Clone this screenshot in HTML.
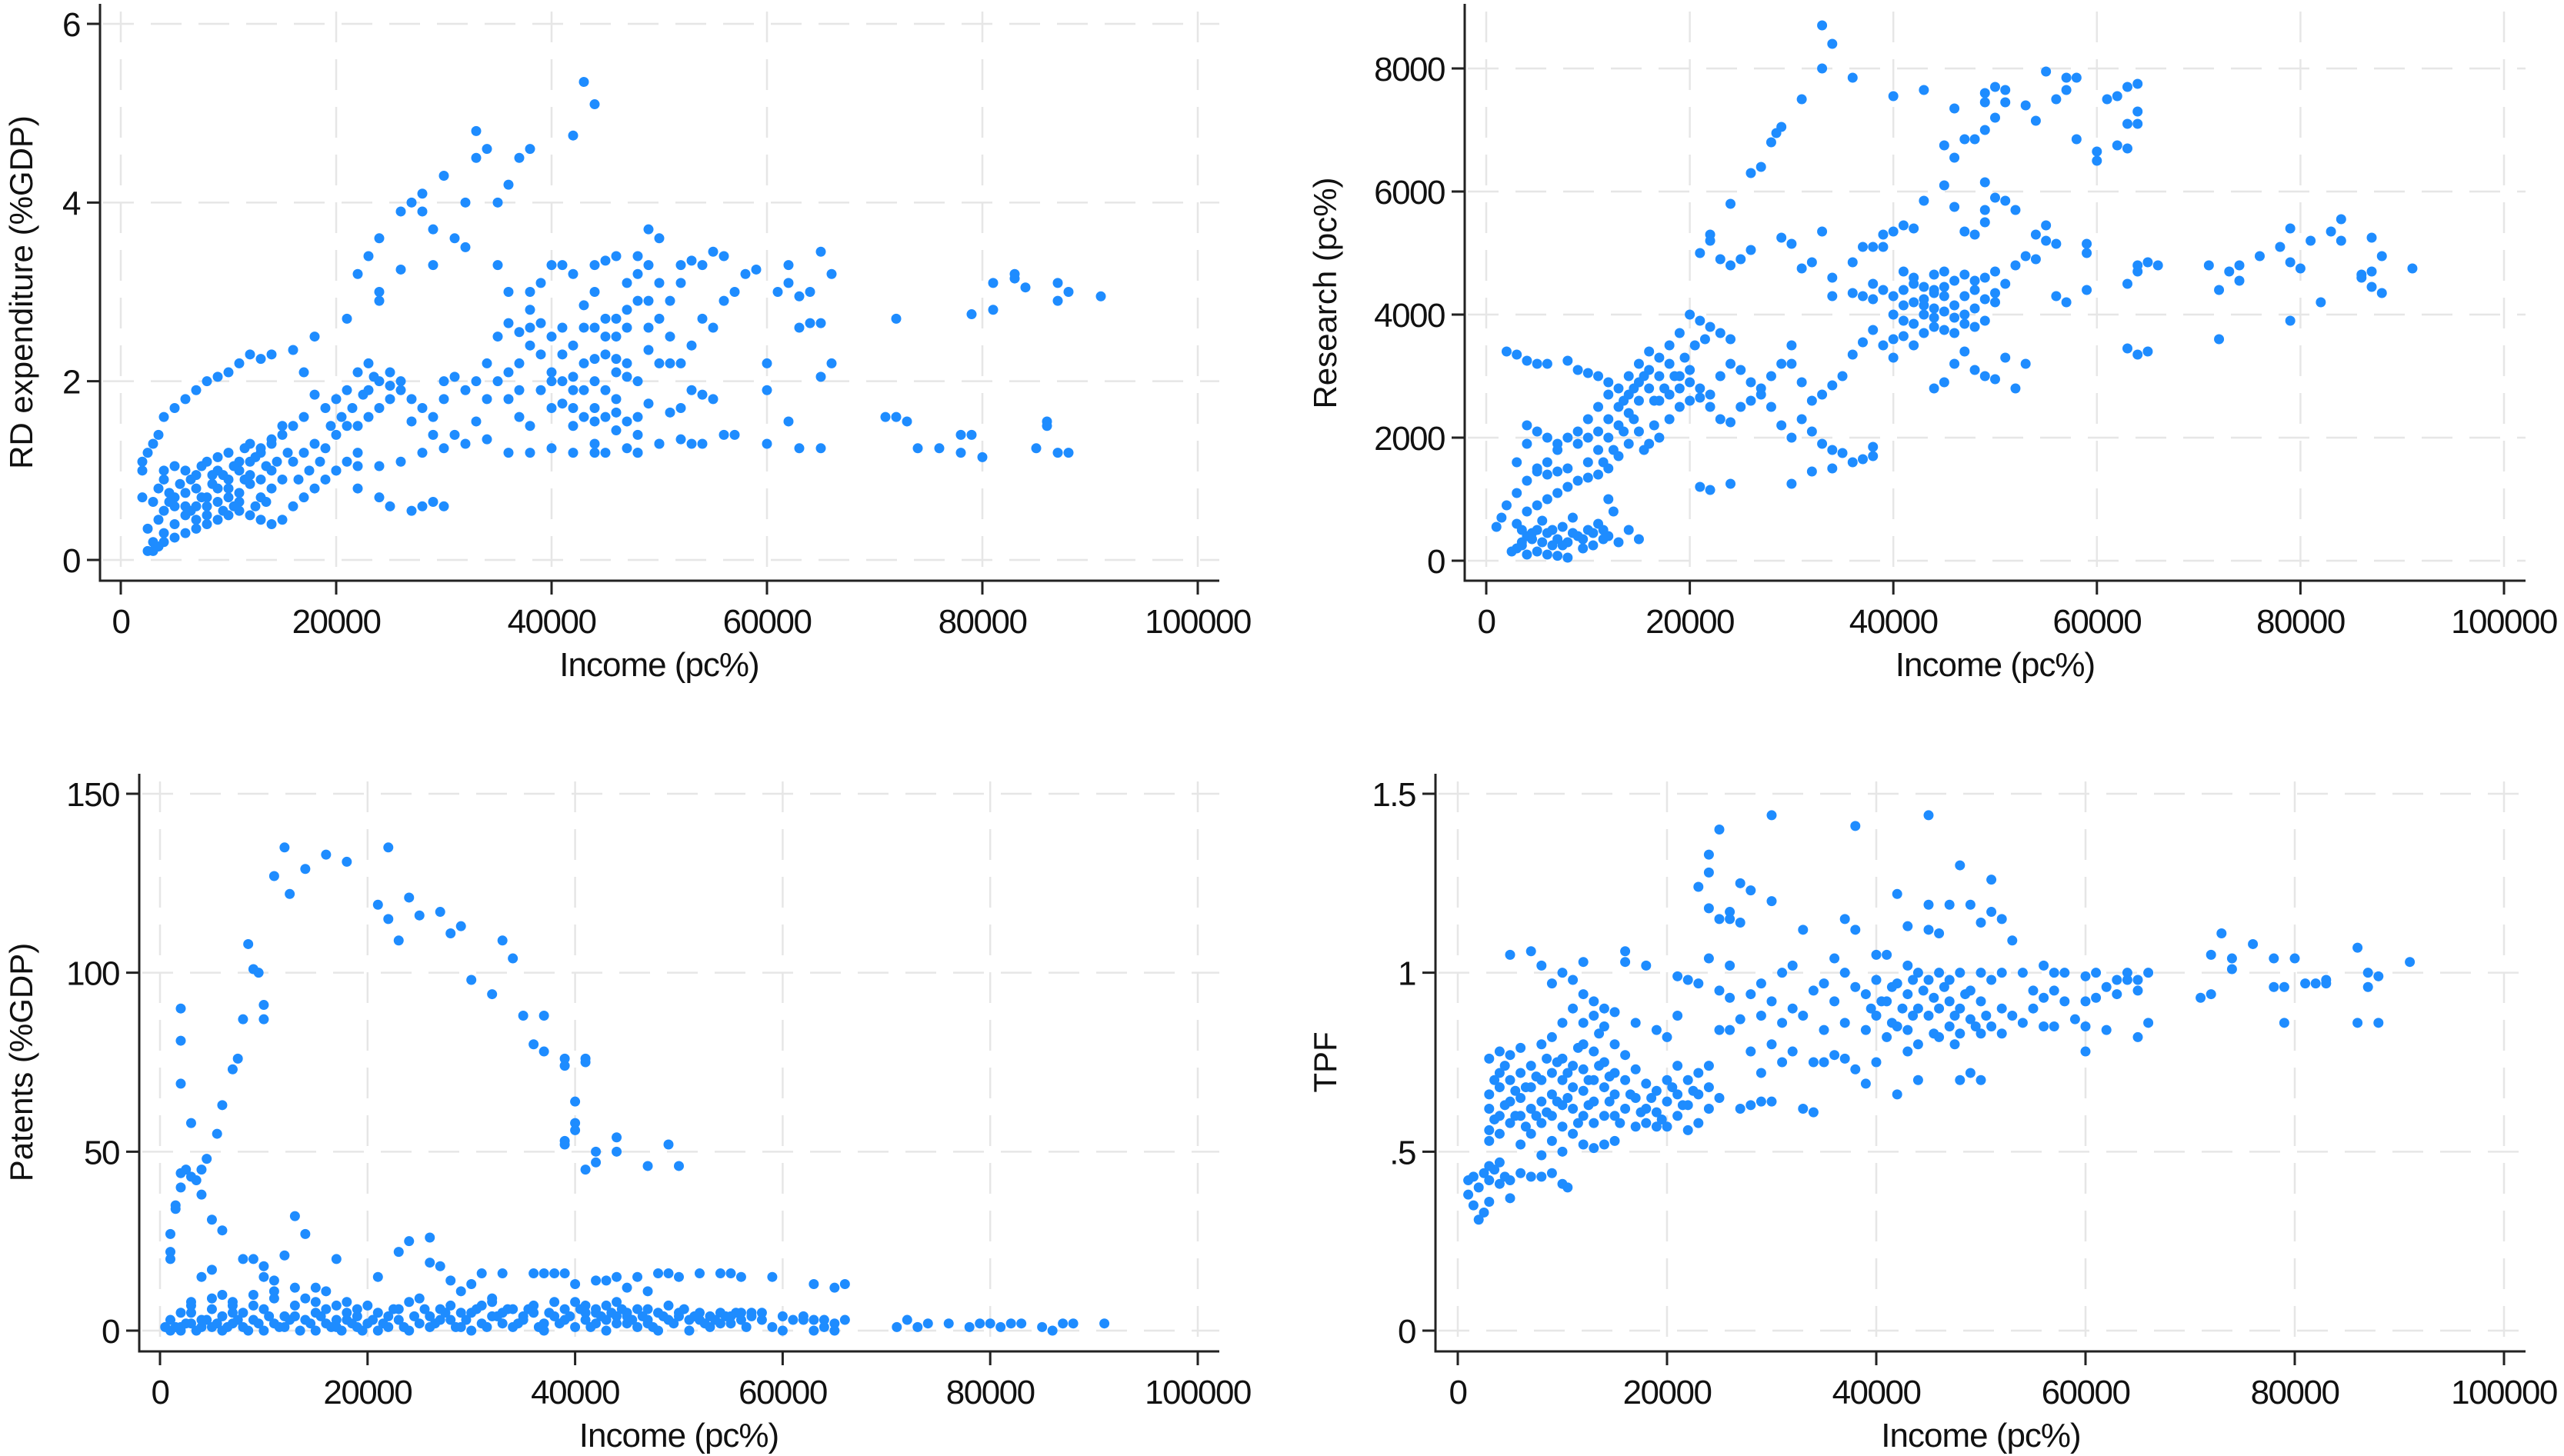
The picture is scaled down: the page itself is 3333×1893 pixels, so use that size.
<!DOCTYPE html>
<html><head><meta charset="utf-8">
<style>
html,body{margin:0;padding:0;background:#fff;}
svg{display:block;}
text{font-family:"Liberation Sans",Arial,sans-serif;fill:#111;}
</style></head>
<body>
<svg id="chart" width="3333" height="1893" viewBox="0 0 3333 1893" xmlns="http://www.w3.org/2000/svg"></svg>
<script>
// ---- data (income in thousands) ----
const xTicks = [0,20000,40000,60000,80000,100000];
const rdTicks = [0,2,4,6];
const resTicks = [0,2000,4000,6000,8000];
const patTicks = [0,50,100,150];
const tpfTicks = [0,0.5,1,1.5];
const tpfTickLabels = ["0",".5","1","1.5"];

const rdPoints = [[2,1.0],[2,1.1],[2.5,1.2],[3,1.3],[3.5,1.4],[4,1.6],[5,1.7],[6,1.8],[7,1.9],[8,2.0],[9,2.05],[10,2.1],[11,2.2],[12,2.3],[13,2.25],[14,2.3],[16,2.35],[17,2.1],[18,2.5],[21,2.7],[22,3.2],[23,3.4],[24,3.0],[24,2.9],[24,3.6],[26,3.9],[27,4.0],[28,3.9],[28,4.1],[29,3.7],[30,4.3],[31,3.6],[32,4.0],[33,4.5],[33,4.8],[34,4.6],[35,4.0],[36,4.2],[37,4.5],[38,4.6],[42,4.75],[43,5.35],[44,5.1],[26,3.25],[29,3.3],[32,3.5],[35,3.3],
[20,1.0],[22,1.05],[24,1.05],[26,1.1],[28,1.2],[30,1.25],[32,1.3],[34,1.35],[36,1.2],[38,1.2],[40,1.25],[42,1.2],[44,1.2],[48,1.2],[50,1.3],[52,1.35],[54,1.3],
[22,0.8],[24,0.7],[25,0.6],[27,0.55],[28,0.6],[29,0.65],[30,0.6],
[60,1.3],[62,1.55],[63,1.25],[65,1.25],[71,1.6],[72,1.6],[73,1.55],[74,1.25],[76,1.25],[78,1.2],[78,1.4],[79,1.4],[80,1.15],[85,1.25],[86,1.55],[86,1.5],[87,1.2],[88,1.2],[72,2.7],[79,2.75],[81,2.8],[81,3.1],[83,3.15],[83,3.2],[84,3.05],[87,3.1],[87,2.9],[88,3.0],[91,2.95],[60,2.2],[60,1.9],[63,2.6],[64,2.65],[65,2.65],[65,2.05],[66,2.2],[66,3.2],[65,3.45],[61,3.0],[62,3.1],[63,2.95],[64,3.0],[62,3.3],[59,3.25],[58,3.2],[57,3.0],[56,2.9],[55,3.45],[56,3.4],[54,3.3],[53,3.35],[52,3.3],[55,2.6],[54,2.7],[53,2.4],[52,2.2],[51,1.65],[52,1.7],[53,1.9],[54,1.85],[55,1.8],[50,2.2],[51,2.2],[49,2.6],[49,3.7],[50,3.6],[48,3.4],[47,3.1],[46,3.4],[45,3.35],[44,3.3],[42,3.2],[41,3.3],[40,3.3],[39,3.1],[38,3.0],[38,2.8],[36,3.0],[35,2.5],[36,2.65],[37,2.55],[38,2.4],[40,2.5],[41,2.3],[42,2.4],[43,2.2],[44,2.25],[45,2.3],[46,2.5],[47,2.8],[48,2.9],[49,2.9],[50,2.7],[51,2.9],[52,3.1],[41,1.75],[42,1.7],[43,1.6],[44,1.7],[45,1.6],[46,1.8],[47,1.55],[48,1.6],[44,2.0],[45,1.9],[46,2.1],[47,2.2],[48,2.0],[43,1.9],[42,2.05],[40,2.0],[39,1.9],[38,1.5],[37,1.6],[36,1.8],[35,2.0],[34,2.2],[33,2.0],[32,1.9],[31,2.05],[30,2.0],[29,1.6],[31,1.4],[33,1.55],[30,1.8],[28,1.7],[27,1.8],[26,2.0],[25,2.1],[24,2.0],[23,1.9],[23,2.2],[22,2.1],[21,1.9],[20,1.8],[19,1.7],[18,1.85],[17,1.6],[16,1.5],[15,1.4],[14,1.3],[13,1.2],[12,1.1],[11,1.0],[10,0.9],[9,0.8],[8,0.7],[7,0.6],[6,0.5],[5,0.4],[4,0.3],[3,0.2],[2.5,0.1],[3,0.1],[3.5,0.15],[4,0.2],[5,0.25],[6,0.3],[7,0.35],[8,0.4],[9,0.45],[10,0.5],[11,0.55],[12,0.5],[13,0.45],[14,0.4],[15,0.45],[16,0.6],[17,0.7],[18,0.8],[19,0.9],[20,1.0],[21,1.1],[22,1.2],[2,0.7],[3,0.65],[4,0.9],[4,1.0],[5,1.05],[6,1.0],[7,0.95],[8,1.1],[9,1.15],[10,1.2],[11,1.1],[12,1.3],[13,1.25],[14,1.35],[15,1.5],[9,1.0],[10,0.8],[11,0.75],[12,0.85],[13,0.9],[14,1.0],[5,0.7],[6,0.75],[7,0.8],[8,0.6],[9,0.65],[10,0.7],[11,0.65],[12,0.95],[6,0.6],[7,0.45],[8,0.5],[4,0.55],[5,0.6],[13,0.7],[14,0.8],[15,0.9],[16,1.1],[17,1.2],[18,1.3],[19,1.25],[20,1.4],[21,1.5],[22,1.5],[23,1.6],[24,1.7],[25,1.8],[26,1.9],[44,3.0],[45,2.7],[46,2.7],[47,2.6],[48,3.2],[49,3.3],[50,3.1],[39,2.3],[40,2.1],[41,2.0],[42,1.9],[43,2.6],[44,2.6],[36,2.1],[37,2.2],[38,2.6],[39,2.65],[48,1.4],[44,1.3],[45,1.2],[46,1.45],[47,1.25],[48,1.2],[50,1.3],[53,1.3],[56,1.4],[57,1.4],
[2.5,0.35],[3.5,0.45],[4.5,0.65],[5.5,0.85],[6.5,0.9],[7.5,0.7],[8.5,0.85],[9.5,0.95],[10.5,1.05],[11.5,0.9],[12.5,0.6],[13.5,0.65],[14.5,1.1],[15.5,1.2],[16.5,0.9],[17.5,1.0],[18.5,1.1],[19.5,1.5],[20.5,1.6],[21.5,1.7],[3.5,0.8],[4.5,0.75],[6.5,0.55],[7.5,1.05],[8.5,0.95],[9.5,0.55],[10.5,0.6],[11.5,1.25],[12.5,1.15],[13.5,1.05],[22.5,1.85],[23.5,2.05],[25,1.95],[27,1.55],[29,1.4],[34,1.8],[37,1.9],[40,1.7],[41,2.6],[43,2.85],[45,2.5],[46,2.25],[47,2.05],[49,2.35],[51,2.5],[42,1.5],[44,1.55],[46,1.65],[49,1.75]];

const resPoints = [[33,8700],[34,8400],[33,8000],[36,7850],[31,7500],[29,7050],[28.5,6950],[28,6800],[27,6400],[26,6300],[24,5800],[22,5300],[22,5200],[21,5000],[23,4900],[24,4800],[25,4900],[26,5050],[40,7550],[43,7650],[46,7350],[45,6750],[46,6550],[47,6850],[48,6850],[49,7000],[49,7450],[49,7600],[50,7700],[51,7650],[51,7450],[50,7200],[53,7400],[54,7150],[55,7950],[56,7500],[57,7650],[57,7850],[58,7850],[58,6850],[60,6650],[60,6500],[61,7500],[62,7550],[62,6750],[63,6700],[63,7100],[63,7700],[64,7750],[64,7100],[64,7300],
[45,6100],[49,6150],[50,5900],[51,5850],[52,5700],[43,5850],[46,5750],[49,5700],[49,5500],[54,5300],[55,5450],[56,5150],[59,5150],[59,5000],[47,5350],[48,5300],[40,5350],[41,5450],[42,5400],[39,5300],[39,5100],[38,5100],[37,5100],[36,4850],[33,5350],[29,5250],[30,5150],[31,4750],[32,4850],[34,4600],[34,4300],[36,4350],[37,4300],[38,4500],[39,4400],[41,4700],[42,4600],[43,4450],[43,4250],[44,4400],[44,4100],[45,4300],[46,4550],[47,4650],[48,4400],[49,4250],[50,4350],[51,4500],[52,4800],[53,4950],[54,4900],[55,5200],[40,4000],[41,3900],[42,3850],[43,3700],[44,3800],[45,3750],[46,3700],[47,3850],[48,4100],[49,3900],[50,4200],[47,3400],[46,3200],[48,3100],[49,3000],[51,3300],[53,3200],[52,2800],[50,2950],[45,2900],[44,2800],[56,4300],[57,4200],[59,4400],[63,4500],[64,4800],[64,4700],[66,4800],[65,4850],[63,3450],[64,3350],[65,3400],[71,4800],[72,4400],[72,3600],[73,4700],[74,4800],[74,4550],[76,4950],[78,5100],[79,5400],[79,4850],[80,4750],[79,3900],[81,5200],[82,4200],[83,5350],[84,5550],[84,5200],[86,4600],[86,4650],[87,4700],[87,5250],[87,4450],[88,4350],[88,4950],[91,4750],[36,3350],[37,3550],[38,3750],[39,3500],[40,3300],[40,3600],[41,3650],[42,3500],[35,3000],[34,2850],[33,2700],[32,2600],[31,2900],[30,3200],[30,3500],[29,3200],[28,3000],[27,2800],[26,2900],[25,3100],[24,3200],[23,3000],[22,2700],[21,2800],[20,2900],[19,3000],[18,3200],[17,3300],[16,3400],[15,3200],[14,3000],[13,2800],[12,2700],[11,2500],[10,2300],[9,2100],[8,2000],[7,1800],[6,1600],[5,1450],[4,1300],[3,1100],[2,900],[1.5,700],[1,550],[20,4000],[21,3900],[22,3800],[23,3700],[24,3600],[19,3700],[18,3500],[17,3000],[16,2800],[15,2600],[14,2400],[13,2200],[12,2000],[11,1800],[10,1600],[12,1500],[13,1700],[14,1900],[15,2100],[16,1900],[17,2000],[18,2300],[19,2500],[20,2600],[21,2650],[22,2500],[23,2300],[24,2250],[25,2500],[26,2600],[27,2700],[28,2500],[29,2200],[30,2000],[31,2300],[32,2100],[33,1900],[34,1800],[35,1750],[36,1600],[37,1650],[38,1700],[38,1850],[32,1450],[34,1500],[30,1250],[24,1250],[21,1200],[22,1150],[20,3100],[19,2800],[18,2700],[17,2600],[16,3100],[15,2900],[14,2700],[13,2500],[12,2300],[11,2100],[10,2000],[9,1900],[8,1500],[7,1450],[6,1400],[5,1500],[7,1900],[6,2000],[5,2100],[4,2200],[4,1900],[3,1600],[2,3400],[3,3350],[4,3250],[5,3200],[6,3200],[8,3250],[9,3100],[10,3050],[11,3000],[12,2900],[2.5,150],[3,200],[3.5,300],[4,400],[5,500],[6,450],[7,350],[8,300],[9,400],[10,500],[11,600],[12,400],[13,300],[14,500],[15,350],[3,600],[4,800],[5,900],[6,1000],[7,1100],[8,1200],[9,1300],[10,1350],[11,1400],[4,100],[5,150],[6,100],[7,80],[8,50],[3.5,500],[4.5,350],[5.5,650],[6.5,250],[7.5,550],[8.5,700],[9.5,200],[10.5,250],[11.5,350],[12,1000],[12.5,800],[44,4350],[42,4200],[45,4050],[43,4000],[46,3950],[40,4300],[38,4250],[41,4400],[44,4650],[45,4700],[47,4300],[48,4550],
[3.5,250],[4.5,450],[5.5,300],[6.5,500],[7.5,250],[8.5,450],[9.5,350],[10.5,450],[11.5,500],[13.5,2600],[14.5,2800],[15.5,3000],[16.5,2600],[17.5,2800],[18.5,3000],[19.5,3300],[20.5,3500],[21.5,3600],[13.5,2100],[14.5,2300],[15.5,1800],[16.5,2200],[12.5,1800],[11.5,1600],[42,4500],[43,4150],[44,3950],[45,4450],[46,4150],[47,4000],[48,3800],[49,4600],[50,4700],[41,4150]];

const patPoints = [[1,20],[1,22],[1,27],[1.5,34],[1.5,35],[2,40],[2,44],[2.5,45],[3,43],[3,58],[3.5,42],[4,38],[4,45],[4.5,48],[5,31],[5.5,55],[6,28],[6,63],[7,73],[7.5,76],[8,87],[8.5,108],[9,101],[9.5,100],[10,87],[10,91],[2,90],[2,81],[2,69],[11,127],[12,135],[12.5,122],[14,129],[16,133],[18,131],[21,119],[22,135],[22,115],[23,109],[24,121],[25,116],[27,117],[28,111],[29,113],[30,98],[32,94],[33,109],[34,104],[35,88],[36,80],[37,78],[37,88],[39,76],[39,74],[40,64],[40,58],[40,56],[39,52],[39,53],[41,75],[41,76],[41,45],[42,50],[42,47],[44,50],[44,54],[47,46],[49,52],[50,46],
[0.5,1],[1,3],[2,5],[3,8],[4,15],[5,17],[6,10],[7,8],[8,20],[9,20],[10,18],[10,15],[11,14],[12,21],[13,32],[14,27],[15,12],[16,11],[17,20],[18,8],[21,15],[23,22],[24,25],[26,26],[26,19],[27,18],[28,14],[29,11],[30,13],[31,16],[32,9],[33,16],[36,16],[37,16],[38,16],[39,16],[40,13],[42,14],[43,14],[44,15],[45,12],[46,15],[47,11],[48,16],[49,16],[50,15],[52,16],[54,16],[55,16],[56,15],[59,15],[63,13],[65,12],[66,13],
[1,0],[2,1],[3,2],[4,3],[5,1],[6,4],[7,2],[8,5],[9,3],[10,6],[11,2],[12,4],[13,7],[14,3],[15,5],[16,2],[17,1],[18,3],[19,4],[20,2],[21,5],[22,1],[23,3],[24,8],[25,2],[26,4],[27,6],[28,3],[29,1],[30,5],[31,7],[32,4],[33,2],[34,6],[35,3],[36,5],[37,2],[38,4],[39,6],[40,8],[41,3],[42,5],[43,7],[44,4],[45,2],[46,6],[47,3],[48,5],[49,7],[50,4],[51,3],[52,5],[53,4],[54,2],[55,4],[56,3],[57,5],[58,3],[59,1],[60,4],[61,3],[62,4],[63,3],[64,1],[65,2],[66,3],[71,1],[72,3],[73,1],[74,2],[76,2],[78,1],[79,2],[80,2],[81,1],[82,2],[83,2],[85,1],[86,0],[87,2],[88,2],[91,2],
[2,0],[3,5],[4,1],[5,6],[6,0],[7,5],[8,1],[9,7],[10,0],[11,9],[12,1],[13,4],[14,9],[15,0],[16,6],[17,3],[18,5],[19,1],[20,7],[21,0],[22,4],[23,6],[24,0],[25,9],[26,1],[27,3],[28,7],[29,5],[30,0],[31,2],[32,8],[33,5],[34,1],[35,4],[36,7],[37,0],[38,8],[39,3],[40,1],[41,7],[42,2],[43,0],[44,8],[45,5],[46,1],[47,6],[48,0],[49,3],[50,5],[51,0],[52,3],[53,1],[54,5],[55,2],[56,5],[57,4],[58,5],[60,0],[62,3],[63,0],[64,3],[65,0],
[1.5,1],[2.5,2],[3.5,0],[4.5,3],[5.5,2],[6.5,1],[7.5,3],[8.5,0],[9.5,2],[10.5,4],[11.5,1],[12.5,3],[13.5,0],[14.5,2],[15.5,4],[16.5,1],[17.5,0],[18.5,2],[19.5,0],[20.5,3],[3,7],[5,9],[7,7],[9,10],[11,11],[13,12],[15,8],[17,7],[19,6],[41,5],[43,3],[45,4],[47,2],[42,6],[44,2],
[21.5,2],[22.5,6],[23.5,1],[24.5,4],[25.5,6],[26.5,2],[27.5,5],[28.5,1],[29.5,3],[30.5,6],[31.5,1],[32.5,4],[33.5,6],[34.5,2],[35.5,6],[36.5,1],[37.5,5],[38.5,2],[39.5,4],[40.5,6],[41.5,1],[42.5,4],[43.5,5],[44.5,6],[45.5,3],[46.5,4],[47.5,1],[48.5,4],[49.5,2],[50.5,6],[51.5,4],[52.5,2],[53.5,3],[54.5,4],[55.5,5],[56.5,1]];

const tpfPoints = [[1,0.42],[1,0.38],[1.5,0.35],[1.5,0.43],[2,0.31],[2,0.40],[2.5,0.33],[2.5,0.44],[3,0.36],[3,0.42],[3,0.46],[3.5,0.45],[4,0.41],[4,0.47],[4.5,0.43],[5,0.37],[5,0.42],[6,0.44],[7,0.43],[8,0.43],[9,0.44],[10,0.41],[10.5,0.40],
[3,0.53],[3,0.56],[3,0.62],[3,0.66],[3,0.76],[4,0.55],[4,0.6],[4,0.68],[4,0.72],[4,0.78],[5,0.58],[5,0.64],[5,0.7],[5,0.77],[5,1.05],[6,0.52],[6,0.6],[6,0.65],[6,0.72],[6,0.79],[7,0.55],[7,0.62],[7,0.68],[7,0.74],[7,1.06],[8,0.49],[8,0.58],[8,0.64],[8,0.7],[8,0.8],[8,1.02],[9,0.53],[9,0.6],[9,0.66],[9,0.72],[9,0.82],[9,0.97],[10,0.5],[10,0.57],[10,0.63],[10,0.7],[10,0.76],[10,0.86],[10,1.0],[11,0.55],[11,0.62],[11,0.68],[11,0.74],[11,0.9],[11,0.98],[12,0.52],[12,0.6],[12,0.67],[12,0.73],[12,0.8],[12,0.86],[12,0.94],[12,1.03],[13,0.51],[13,0.58],[13,0.64],[13,0.7],[13,0.78],[13,0.88],[13,0.92],[14,0.52],[14,0.6],[14,0.68],[14,0.75],[14,0.85],[14,0.9],[15,0.53],[15,0.6],[15,0.66],[15,0.72],[15,0.8],[15,0.89],[16,1.06],[16,1.03],[16,0.62],[16,0.7],[16,0.77],[17,0.57],[17,0.65],[17,0.73],[17,0.86],[18,0.58],[18,0.62],[18,0.69],[18,1.02],[19,0.57],[19,0.61],[19,0.67],[19,0.84],[20,0.57],[20,0.64],[20,0.7],[20,0.82],[21,0.6],[21,0.66],[21,0.74],[21,0.88],[21,0.99],[22,0.56],[22,0.63],[22,0.7],[22,0.98],[23,0.58],[23,0.66],[23,0.72],[23,0.97],[23,1.24],[24,0.62],[24,0.68],[24,0.74],[24,1.04],[24,1.33],[24,1.28],[24,1.18],[25,1.4],[25,1.15],[25,0.65],[25,0.95],[25,0.84],[26,0.84],[26,0.93],[26,1.02],[26,1.17],[26,1.15],[27,1.25],[27,1.14],[27,0.87],[27,0.62],[28,1.23],[28,0.94],[28,0.78],[28,0.63],[29,0.97],[29,0.88],[29,0.72],[29,0.64],[30,1.44],[30,1.2],[30,0.92],[30,0.8],[30,0.64],[31,1.0],[31,0.86],[31,0.75],[32,0.9],[32,1.02],[32,0.78],[33,1.12],[33,0.88],[33,0.62],[34,0.95],[34,0.75],[34,0.61],[35,0.84],[35,0.97],[35,0.75],[36,1.04],[36,0.92],[36,0.77],[37,1.15],[37,1.0],[37,0.86],[37,0.76],[38,1.41],[38,1.12],[38,0.96],[38,0.73],[39,0.94],[39,0.84],[39,0.69],[40,1.05],[40,0.98],[40,0.88],[40,0.75],[41,1.05],[41,0.92],[41,0.82],[42,1.22],[42,0.97],[42,0.85],[42,0.66],[43,1.13],[43,1.02],[43,0.94],[43,0.84],[43,0.78],[44,1.0],[44,0.9],[44,0.8],[44,0.7],[45,1.44],[45,1.19],[45,1.12],[45,0.98],[45,0.88],[46,1.11],[46,1.0],[46,0.9],[46,0.82],[47,1.19],[47,0.98],[47,0.92],[47,0.85],[48,1.3],[48,1.0],[48,0.9],[48,0.83],[48,0.7],[49,1.19],[49,0.95],[49,0.87],[49,0.72],[50,1.14],[50,1.0],[50,0.92],[50,0.83],[50,0.7],[51,1.26],[51,1.17],[51,0.98],[51,0.85],[52,1.15],[52,1.0],[52,0.9],[52,0.83],[53,1.09],[53,0.88],[54,1.0],[54,0.86],[55,0.95],[55,0.9],[56,1.02],[56,0.93],[56,0.85],[57,1.0],[57,0.95],[57,0.85],[58,1.0],[58,0.92],[59,0.87],[60,0.99],[60,0.92],[60,0.85],[60,0.78],[61,1.0],[61,0.93],[62,0.96],[62,0.84],[63,0.98],[63,0.94],[64,1.0],[64,0.98],[65,0.98],[65,0.95],[65,0.82],[66,1.0],[66,0.86],[71,0.93],[72,0.94],[72,1.05],[73,1.11],[74,1.01],[74,1.04],[76,1.08],[78,1.04],[78,0.96],[79,0.96],[79,0.86],[80,1.04],[81,0.97],[82,0.97],[83,0.97],[83,0.98],[86,0.86],[86,1.07],[87,0.96],[87,1.0],[88,0.86],[88,0.99],[91,1.03],
[3.5,0.59],[4.5,0.63],[5.5,0.67],[6.5,0.57],[7.5,0.71],[8.5,0.61],[9.5,0.75],[10.5,0.65],[11.5,0.79],[12.5,0.63],[13.5,0.83],[14.5,0.71],[15.5,0.58],[16.5,0.66],[17.5,0.61],[18.5,0.65],[19.5,0.59],[20.5,0.68],[21.5,0.63],[22.5,0.67],[3.5,0.7],[4.5,0.74],[5.5,0.6],[6.5,0.68],[7.5,0.6],[8.5,0.76],[9.5,0.64],[10.5,0.72],[11.5,0.58],[12.5,0.7],[13.5,0.74],[14.5,0.64],[39.5,0.9],[40.5,0.92],[41.5,0.96],[42.5,0.9],[43.5,0.98],[44.5,0.95],[45.5,0.93],[46.5,0.96],[47.5,0.88],[48.5,0.94],[49.5,0.85],[50.5,0.88],[41.5,0.86],[43.5,0.88],[45.5,0.83],[47.5,0.8]];

const NS = "http://www.w3.org/2000/svg";
const svg = document.getElementById("chart");
function mk(tag, attrs, parent){
  const e = document.createElementNS(NS, tag);
  for (const k in attrs) e.setAttribute(k, attrs[k]);
  (parent||svg).appendChild(e);
  return e;
}

function panel(cfg){
  const g = mk("g", {});
  
  
  const xs = v => cfg.x0 + (v/100000)*(cfg.x1 - cfg.x0);
  const ys = v => cfg.y0 + (v - cfg.yTicks[0])/(cfg.yTicks[cfg.yTicks.length-1]-cfg.yTicks[0])*(cfg.yTop - cfg.y0);
  xTicks.forEach(t => {
    const l = mk("line", {x1:xs(t), x2:xs(t), y1:cfg.axTop+10, y2:cfg.axY-4, stroke:"#e6e6e6", "stroke-width":2.5, "stroke-dasharray":"40 22"}, g);
    
    
  });
  cfg.yTicks.forEach(t => {
    const l = mk("line", {x1:cfg.axX+4, x2:cfg.axR, y1:ys(t), y2:ys(t), stroke:"#e6e6e6", "stroke-width":2.5, "stroke-dasharray":"40 22"}, g);
    
    
  });
  const pg = mk("g", {fill:"#1e8cff"}, g);
  
  
  cfg.points.forEach(p => {
    const c = mk("circle", {cx:xs(p[0]*1000), cy:ys(p[1]), r:6.5}, pg);
    
    
  });
  const ya = mk("line", {x1:cfg.axX, x2:cfg.axX, y1:cfg.axTop, y2:cfg.axY+1.5, stroke:"#222", "stroke-width":3}, g);
  
  
  const xa = mk("line", {x1:cfg.axX-1.5, x2:cfg.axR, y1:cfg.axY, y2:cfg.axY, stroke:"#222", "stroke-width":3}, g);
  
  
  xTicks.forEach(t => {
    mk("line", {x1:xs(t), x2:xs(t), y1:cfg.axY, y2:cfg.axY+18, stroke:"#222", "stroke-width":3}, g);
    const tx = mk("text", {x:xs(t), y:cfg.axY+68, "text-anchor":"middle", "font-size":44, "letter-spacing":"-1.5"}, g);
    tx.textContent = String(t);
    
    
  });
  cfg.yTicks.forEach((t,i) => {
    mk("line", {x1:cfg.axX-17, x2:cfg.axX, y1:ys(t), y2:ys(t), stroke:"#222", "stroke-width":3}, g);
    const tx = mk("text", {x:cfg.axX-26, y:ys(t)+16, "text-anchor":"end", "font-size":44, "letter-spacing":"-1.5"}, g);
    tx.textContent = cfg.yLabels ? cfg.yLabels[i] : String(t);
    
    
  });
  const xt = mk("text", {x:(xs(0)+xs(100000))/2, y:cfg.axY+124, "text-anchor":"middle", "font-size":44, "letter-spacing":"-1"}, g);
  xt.textContent = "Income (pc%)";
  
  
  const yt = mk("text", {x:0, y:0, "text-anchor":"middle", "font-size":42, transform:`translate(${cfg.titleX},${cfg.titleY}) rotate(-90)`}, g);
  yt.textContent = cfg.yTitle;
  
  
}

panel({name:"rd-expenditure-panel", points:rdPoints, yTicks:rdTicks, x0:157, x1:1557, y0:728, yTop:31, axX:130, axY:755, axTop:5, axR:1585, titleX:42, titleY:380, yTitle:"RD expenditure (%GDP)"});
panel({name:"research-panel", points:resPoints, yTicks:resTicks, x0:1932, x1:3255, y0:729, yTop:89, axX:1904, axY:755, axTop:5, axR:3283, titleX:1737, titleY:381, yTitle:"Research (pc%)"});
panel({name:"patents-panel", points:patPoints, yTicks:patTicks, x0:208, x1:1557, y0:1730, yTop:1032, axX:181, axY:1757, axTop:1006, axR:1585, titleX:42, titleY:1381, yTitle:"Patents (%GDP)"});
panel({name:"tpf-panel", points:tpfPoints, yTicks:tpfTicks, yLabels:tpfTickLabels, x0:1895, x1:3255, y0:1730, yTop:1032, axX:1866, axY:1757, axTop:1006, axR:3283, titleX:1737, titleY:1381, yTitle:"TPF"});
</script>
</body></html>
